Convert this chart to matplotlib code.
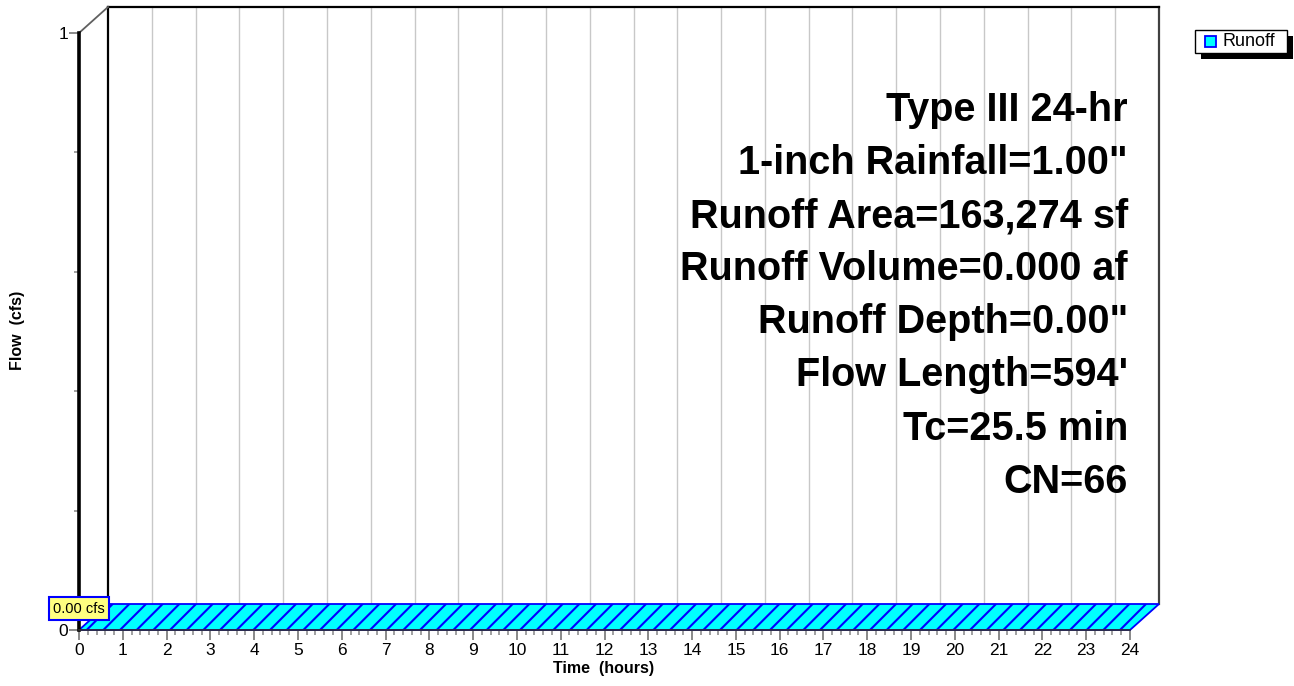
import matplotlib
matplotlib.use("Agg")
import matplotlib.pyplot as plt
from matplotlib.patches import Polygon, Rectangle

plt.rcParams['font.family'] = ['Liberation Sans', 'DejaVu Sans']
plt.rcParams['hatch.linewidth'] = 1.5

# data
hours = list(range(0, 25))
flow_ticks = [0, 1]
runoff_peak = 0.00          # cfs
t_end = 24
series_name = "Runoff"
peak_label = "0.00 cfs"
info_lines = [
    "Type III 24-hr",
    "1-inch Rainfall=1.00\"",
    "Runoff Area=163,274 sf",
    "Runoff Volume=0.000 af",
    "Runoff Depth=0.00\"",
    "Flow Length=594'",
    "Tc=25.5 min",
    "CN=66",
]

W, H = 1294, 686
fig = plt.figure(figsize=(W / 100, H / 100), dpi=100)

# front plane of the 3d box
x0, x1, ytop, ybot = 79, 1130, 33, 630
ax = fig.add_axes([x0 / W, 1 - ybot / H, (x1 - x0) / W, (ybot - ytop) / H])
ax.set_xlim(0, t_end)
ax.set_ylim(0, 1)
ax.patch.set_visible(False)

# depth offset (back wall), in data units
dx = 29 / ((x1 - x0) / t_end)
dy = 26 / (ybot - ytop)

# back wall grid lines
for h in hours[1:-1]:
    ax.plot([h + dx, h + dx], [dy, 1 + dy], color='#c8c8c8', lw=1, clip_on=False, zorder=1)
ax.plot([dx, dx], [dy, 1 + dy], color='black', lw=1.6, clip_on=False, zorder=2)
ax.plot([t_end + dx, t_end + dx], [dy, 1 + dy], color='#404040', lw=1.6, clip_on=False, zorder=2)
ax.plot([dx, t_end + dx], [1 + dy, 1 + dy], color='black', lw=1.6, clip_on=False, zorder=2)
ax.plot([0, dx], [1, 1 + dy], color='#606060', lw=1.3, clip_on=False, zorder=2)

# runoff hydrograph (flat zero -> floor slab)
floor = Polygon([(0, runoff_peak), (t_end, runoff_peak), (t_end + dx, runoff_peak + dy), (dx, runoff_peak + dy)],
                closed=True, facecolor='#00ffff', edgecolor='#0000ff', hatch='//', lw=1.3,
                clip_on=False, zorder=3)
ax.add_patch(floor)

ax.text(0, 0.036, peak_label, ha='center', va='center', fontsize=10.5, zorder=6,
        bbox=dict(boxstyle='square,pad=0.3', facecolor='#ffff80', edgecolor='#0000ff', lw=1.5))

# axes
for s in ['top', 'right']:
    ax.spines[s].set_visible(False)
ax.spines['left'].set_linewidth(2.6)
ax.spines['left'].set_color('black')
ax.spines['bottom'].set_linewidth(1.2)
ax.spines['bottom'].set_color('#303030')
ax.spines['left'].set_zorder(5)
ax.spines['bottom'].set_zorder(5)

ax.set_xticks(hours)
ax.set_xticks([h / 5 for h in range(0, t_end * 5 + 1)], minor=True)
ax.set_yticks(flow_ticks)
ax.set_yticks([0.2, 0.4, 0.6, 0.8], minor=True)
ax.tick_params(axis='both', which='major', direction='out', color='#808080', width=1.3,
               length=7, labelsize=12.5, pad=2.5)
ax.tick_params(axis='both', which='minor', direction='out', color='#909090', width=1.2, length=3.5)
ax.tick_params(axis='y', which='major', pad=1)

fig.text(604 / W, 1 - 669 / H, "Time  (hours)", ha='center', va='center', fontsize=11.5, fontweight='bold')
fig.text(18 / W, 1 - 330 / H, "Flow  (cfs)", ha='center', va='center', rotation=90,
         fontsize=11.5, fontweight='bold')

# info text
for i, line in enumerate(info_lines):
    fig.text(1128 / W, 1 - (121 + i * 53.1) / H, line, ha='right', va='baseline',
             fontsize=28.5, fontweight='bold')

# legend with hard shadow
def fx(x):
    return x / W

def fy(y):
    return 1 - y / H

fig.patches.append(Rectangle((fx(1201), fy(59)), (1293 - 1201) / W, (59 - 36) / H,
                             transform=fig.transFigure, facecolor='black', edgecolor='none'))
fig.patches.append(Rectangle((fx(1195), fy(53)), (1287 - 1195) / W, (53 - 30) / H,
                             transform=fig.transFigure, facecolor='white', edgecolor='black', lw=1))
fig.patches.append(Rectangle((fx(1205), fy(47)), 11 / W, 11 / H,
                             transform=fig.transFigure, facecolor='#00ffff', edgecolor='#0000ff', lw=1.3))
fig.text(fx(1222), fy(41.5), series_name, ha='left', va='center', fontsize=13)

fig.savefig("out.png", dpi=100)
